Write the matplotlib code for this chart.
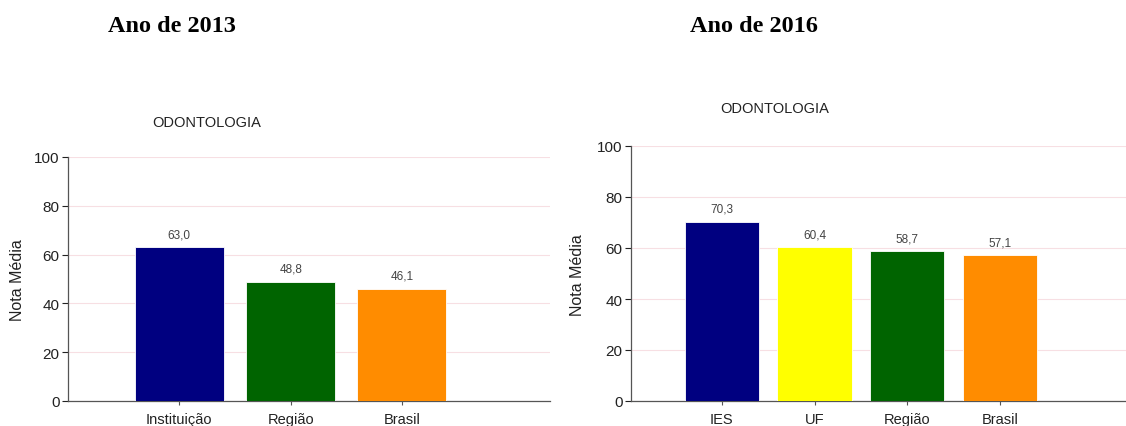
import matplotlib
matplotlib.use("Agg")
import matplotlib.pyplot as plt

# Nota média em Odontologia, 2013 e 2016
cats_2013 = ["Instituição", "Região", "Brasil"]
vals_2013 = [63.0, 48.8, 46.1]
cols_2013 = ["#000080", "#006400", "#ff8c00"]

cats_2016 = ["IES", "UF", "Região", "Brasil"]
vals_2016 = [70.3, 60.4, 58.7, 57.1]
cols_2016 = ["#000080", "#ffff00", "#006400", "#ff8c00"]

yticks = [0, 20, 40, 60, 80, 100]

plt.rcParams["font.family"] = ["Liberation Sans", "DejaVu Sans"]

W, H = 1126, 427
fig = plt.figure(figsize=(W / 100, H / 100), dpi=100)


def panel(rect, cats, vals, cols, xlim, ylabel_xy):
    ax = fig.add_axes(rect)
    x = list(range(len(cats)))
    bars = ax.bar(x, vals, width=0.8, color=cols, edgecolor="white", linewidth=0.6, zorder=3)
    for b, v in zip(bars, vals):
        ax.annotate(f"{v:.1f}".replace(".", ","), (b.get_x() + b.get_width() / 2, v),
                    xytext=(0, 5), textcoords="offset points", ha="center", va="bottom",
                    fontsize=8.5, color="#444444")
    ax.set_xlim(*xlim)
    ax.set_ylim(0, 100)
    ax.set_yticks(yticks)
    ax.set_xticks(x)
    ax.set_xticklabels(cats, fontsize=10.5, color="#222222")
    ax.tick_params(axis="y", labelsize=11, colors="#222222", length=4, width=0.8, pad=2)
    ax.tick_params(axis="x", length=3, width=0.8, color="#555555", pad=5)
    ax.grid(axis="y", color="#f7dfe3", linewidth=0.8, zorder=0)
    for s in ("top", "right"):
        ax.spines[s].set_visible(False)
    for s in ("left", "bottom"):
        ax.spines[s].set_color("#555555")
        ax.spines[s].set_linewidth(0.9)
    fig.text(ylabel_xy[0] / W, 1 - ylabel_xy[1] / H, "Nota Média",
             rotation=90, ha="center", va="center", fontsize=11.5, color="#222222")
    return ax


panel([68 / W, 1 - 402 / H, (550 - 68) / W, (402 - 158) / H],
      cats_2013, vals_2013, cols_2013, (-1.0, 3.33), (18, 280))
panel([631 / W, 1 - 402 / H, (W - 631) / W, (402 - 147) / H],
      cats_2016, vals_2016, cols_2016, (-0.98, 4.36), (577, 275))

fig.text(207 / W, 1 - 123 / H, "ODONTOLOGIA", ha="center", va="center",
         fontsize=10.5, color="#222222")
fig.text(775 / W, 1 - 109 / H, "ODONTOLOGIA", ha="center", va="center",
         fontsize=10.5, color="#222222")

fig.text(172 / W, 1 - 27 / H, "Ano de 2013", ha="center", va="center",
         fontsize=17.5, fontweight="bold", family="Liberation Serif")
fig.text(754 / W, 1 - 27 / H, "Ano de 2016", ha="center", va="center",
         fontsize=17.5, fontweight="bold", family="Liberation Serif")

fig.savefig("out.png", dpi=100)
